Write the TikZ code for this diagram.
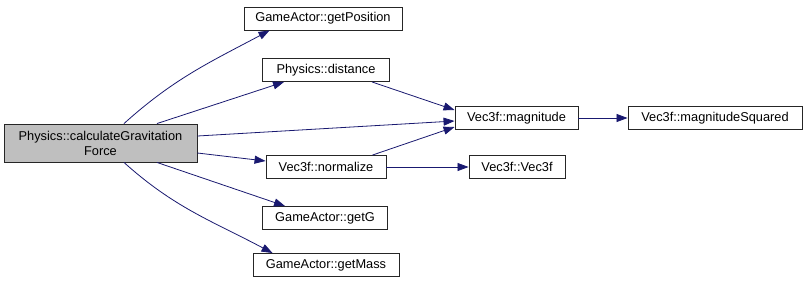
\documentclass[tikz,border=0pt]{standalone}
\usepackage{fontspec}
\setmainfont{Liberation Sans}
\usetikzlibrary{arrows.meta}
\definecolor{edgeblue}{HTML}{191970}
\definecolor{mainfill}{HTML}{BFBFBF}
\begin{document}
\begin{tikzpicture}[x=1pt,y=-1pt,
  fn/.style={draw=black!85, fill=white, line width=0.9pt, minimum height=23pt,
    inner sep=0pt, font=\fontsize{12.8}{15}\selectfont},
  call/.style={draw=edgeblue, line width=0.8pt,
    -{Triangle[length=11pt,width=8pt,fill=edgeblue]}}]
  \useasboundingbox (0,0) rectangle (808,285);

  % caller
  \node[fn, fill=mainfill, minimum width=193pt, minimum height=38pt, align=center]
    (main) at (100.5,143) {Physics::calculateGravitation\\Force};

  % direct callees
  \node[fn, minimum width=158pt] (pos)  at (323,18.5) {GameActor::getPosition};
  \node[fn, minimum width=127pt] (dist) at (326,70)   {Physics::distance};
  \node[fn, minimum width=120pt] (norm) at (326,167)  {Vec3f::normalize};
  \node[fn, minimum width=125pt] (getg) at (325,218)  {GameActor::getG};
  \node[fn, minimum width=146pt] (mass) at (326,265)  {GameActor::getMass};

  % second-level callees
  \node[fn, minimum width=123pt] (mag) at (516.5,118) {Vec3f::magnitude};
  \node[fn, minimum width=96pt]  (vec) at (517,167)   {Vec3f::Vec3f};
  \node[fn, minimum width=174pt] (sq)  at (715,118)   {Vec3f::magnitudeSquared};

  % calls from calculateGravitationForce
  \draw[call] ([xshift=23.5pt]main.north) to[out=42,in=208] ([xshift=26pt]pos.south west);
  \draw[call] ([xshift=56.5pt]main.north) -- ([xshift=22pt]dist.south west);
  \draw[call] ([yshift=7pt]main.east) -- ([yshift=-3pt]mag.west);
  \draw[call] ([yshift=-10pt]main.east) -- ([yshift=6pt]norm.west);
  \draw[call] ([xshift=56.5pt]main.south) -- ([xshift=23pt]getg.north west);
  \draw[call] ([xshift=23.5pt]main.south) to[out=-42,in=152] ([xshift=20pt]mass.north west);

  % nested calls
  \draw[call] ([xshift=-18pt]dist.south east) -- ([yshift=8pt]mag.west);
  \draw[call] ([xshift=-14pt]norm.north east) -- ([yshift=-9pt]mag.west);
  \draw[call] (norm.east) -- (vec.west);
  \draw[call] (mag.east) -- (sq.west);
\end{tikzpicture}
\end{document}
